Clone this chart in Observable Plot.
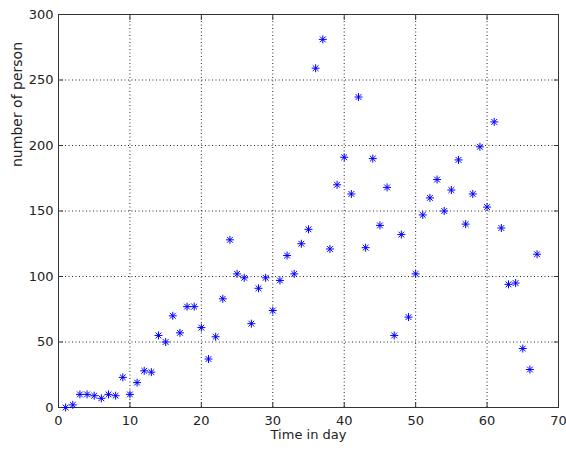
<!DOCTYPE html>
<html><head><meta charset="utf-8">
<script src="https://cdn.jsdelivr.net/npm/d3@7"></script>
<script src="https://cdn.jsdelivr.net/npm/@observablehq/plot@0.6"></script>
<style>body{margin:0;background:#fff}</style>
</head><body><div id="chart"></div>
<script>
const days = [1,2,3,4,5,6,7,8,9,10,11,12,13,14,15,16,17,18,19,20,21,22,23,24,25,26,27,28,29,30,31,32,33,34,35,36,37,38,39,40,41,42,43,44,45,46,47,48,49,50,51,52,53,54,55,56,57,58,59,60,61,62,63,64,65,66,67];
const persons = [0,2,10,10,9,7,10,9,23,10,19,28,27,55,50,70,57,77,77,61,37,54,83,128,102,99,64,91,99,74,97,116,102,125,136,259,281,121,170,191,163,237,122,190,139,168,55,132,69,102,147,160,174,150,166,189,140,163,199,153,218,137,94,95,45,29,117];
const xTicks = [0,10,20,30,40,50,60,70];
const yTicks = [0,50,100,150,200,250,300];
const xLabel = "Time in day";
const yLabel = "number of person";

const data = days.map((d, i) => ({day: d, count: persons[i]}));

const asterisk = {
  draw(ctx, size) {
    const r = Math.sqrt(size / Math.PI);
    const d = r * 0.72;
    ctx.moveTo(-r, 0); ctx.lineTo(r, 0);
    ctx.moveTo(0, -r); ctx.lineTo(0, r);
    ctx.moveTo(-d, -d); ctx.lineTo(d, d);
    ctx.moveTo(-d, d); ctx.lineTo(d, -d);
  }
};

const grid = {stroke: "#000", strokeOpacity: 0.85, strokeDasharray: "1,2.5"};
const chart = Plot.plot({
  width: 566, height: 450,
  marginLeft: 58, marginRight: 8, marginTop: 14, marginBottom: 43,
  style: {fontFamily: "DejaVu Sans", fontSize: "13px", color: "#222", background: "#fff"},
  x: {domain: [0, 70]},
  y: {domain: [0, 300]},
  marks: [
    Plot.gridX(xTicks, grid),
    Plot.gridY(yTicks, grid),
    Plot.axisX(xTicks, {anchor: "bottom", tickSize: 5, dy: -5, text: null, label: null, stroke: "#333"}),
    Plot.axisX(xTicks, {anchor: "top", tickSize: 5, dy: 5, text: null, label: null, stroke: "#333"}),
    Plot.axisY(yTicks, {anchor: "left", tickSize: 5, dx: 5, text: null, label: null, stroke: "#333"}),
    Plot.axisY(yTicks, {anchor: "right", tickSize: 5, dx: -5, text: null, label: null, stroke: "#333"}),
    Plot.axisX(xTicks, {anchor: "bottom", tickSize: 0, tickPadding: 8, label: null}),
    Plot.axisY(yTicks, {anchor: "left", tickSize: 0, tickPadding: 5, label: null}),
    Plot.frame({stroke: "#333"}),
    Plot.dot(data, {x: "day", y: "count", symbol: asterisk, r: 4, fill: "none", stroke: "#0000ff", strokeWidth: 1}),
    Plot.text([xLabel], {frameAnchor: "bottom", dy: 31, fontSize: 13, fill: "#222"}),
    Plot.text([yLabel], {frameAnchor: "left", rotate: -90, dx: -41, dy: -44, fontSize: 14, fill: "#222"})
  ]
});
document.getElementById("chart").append(chart);
</script>
</body></html>
